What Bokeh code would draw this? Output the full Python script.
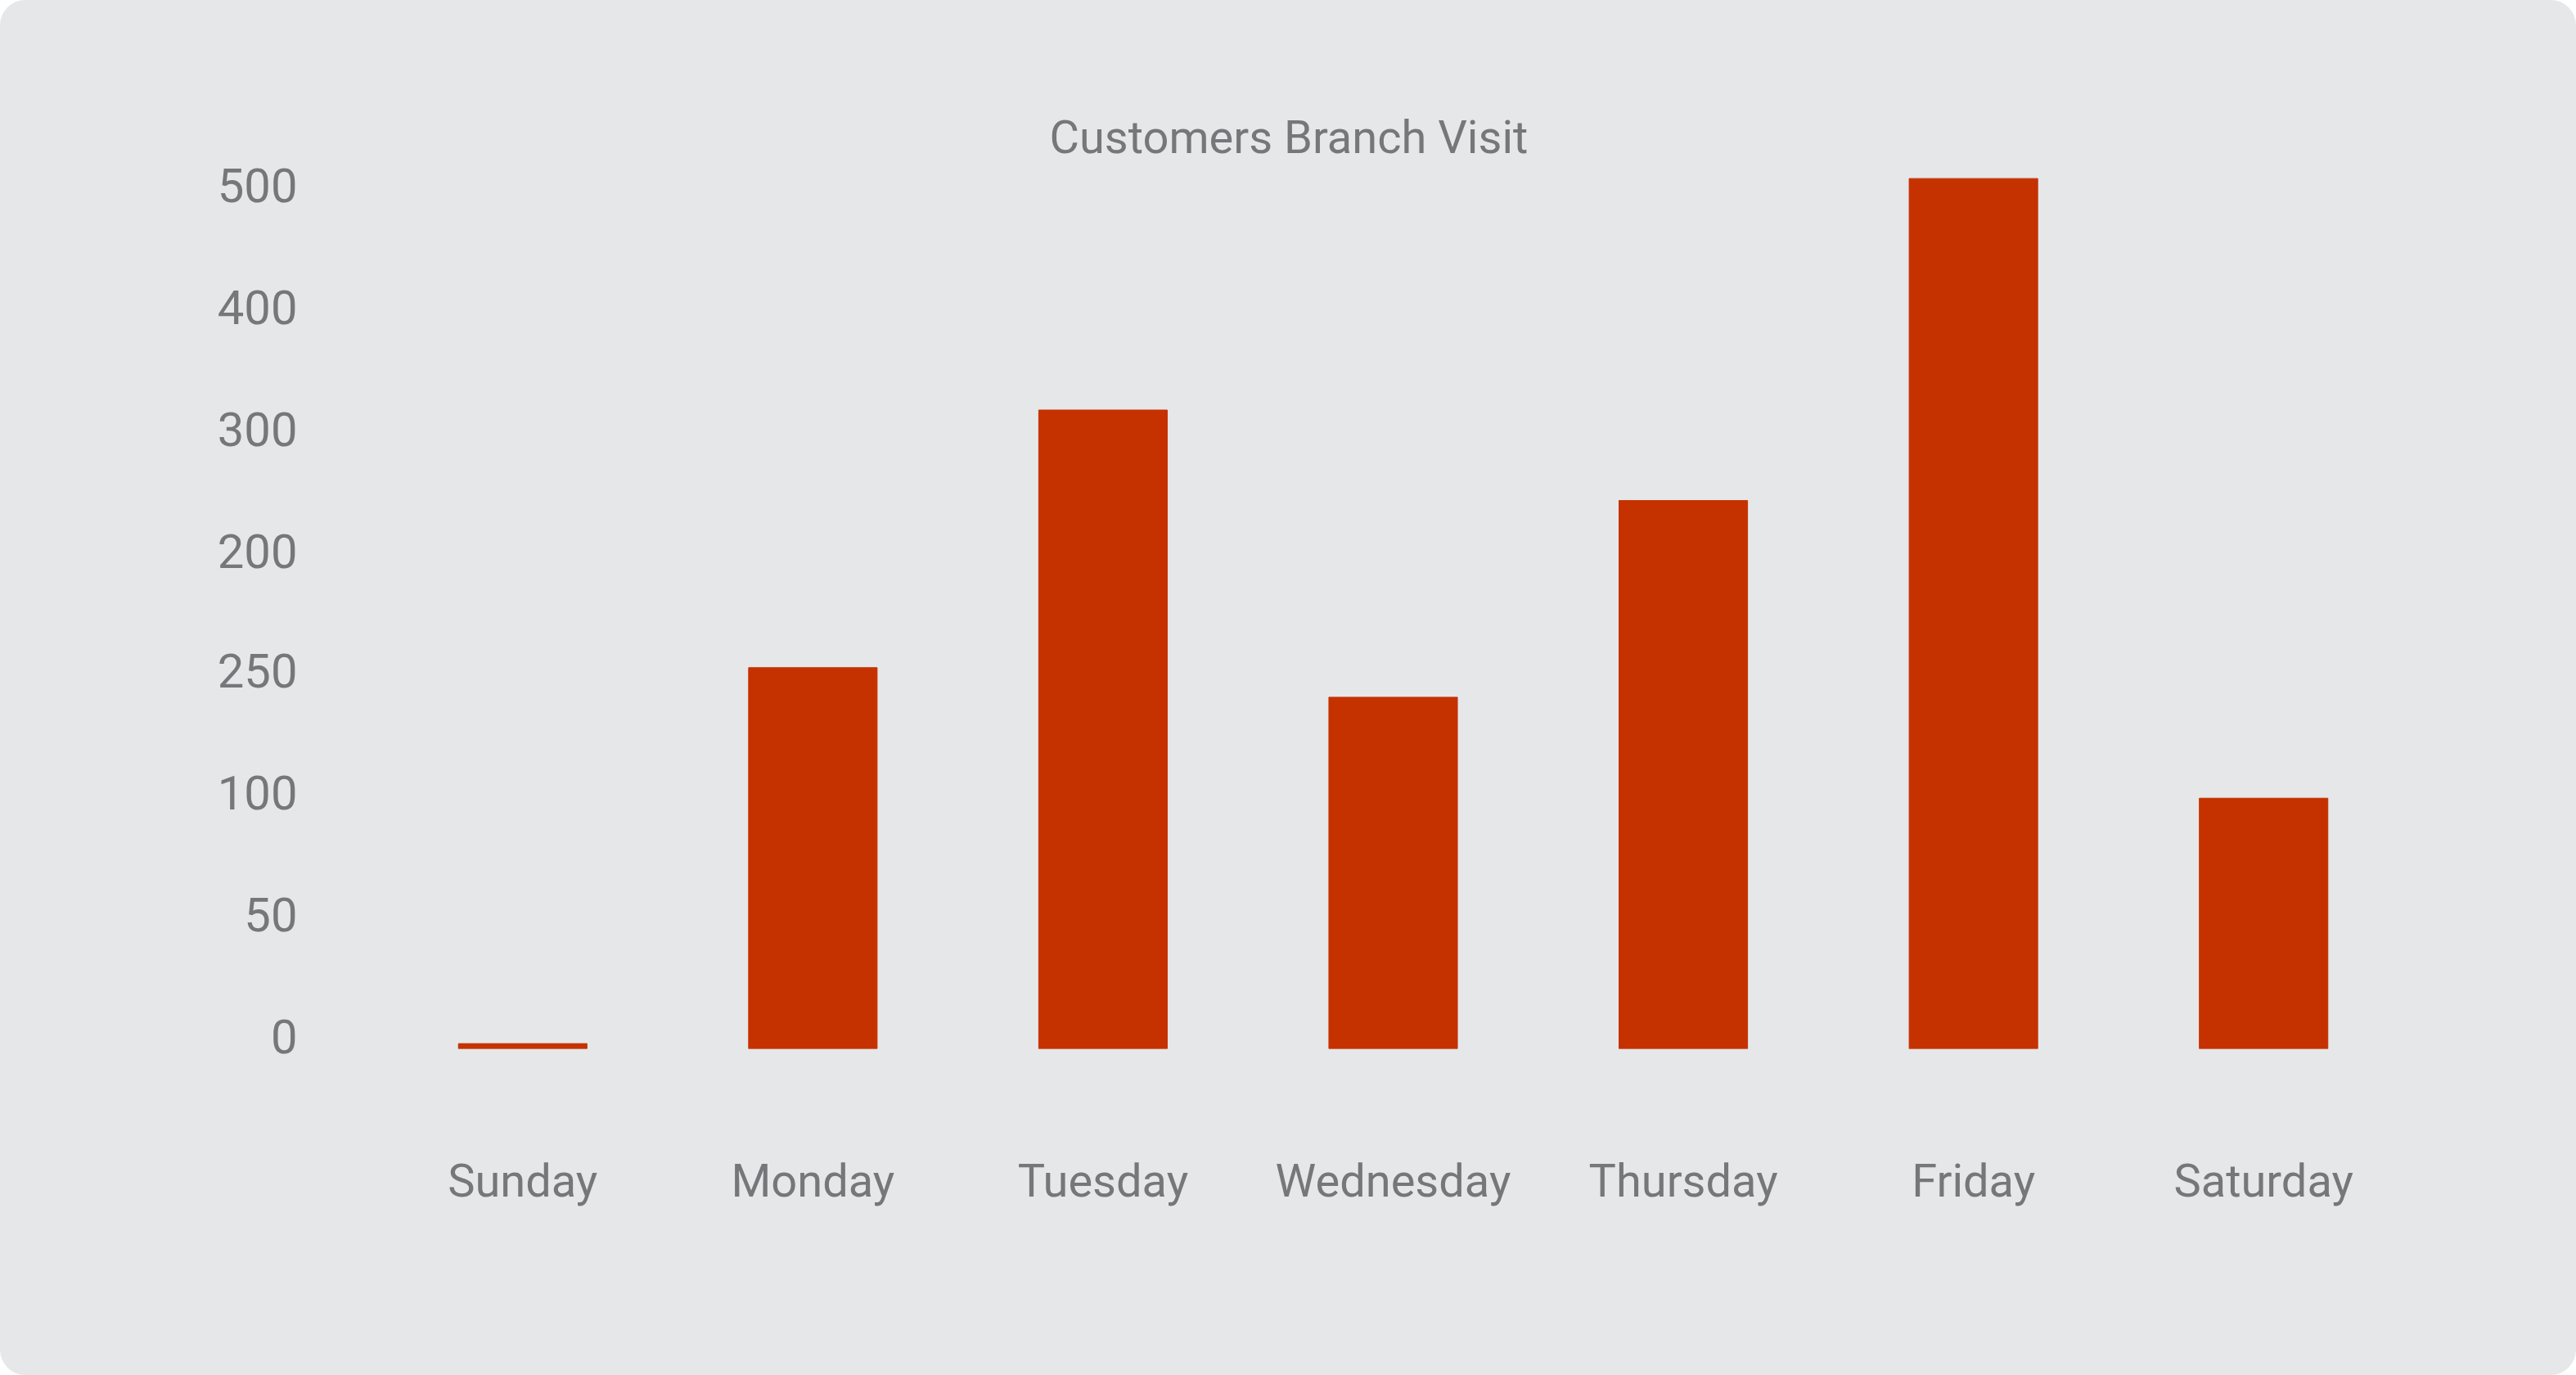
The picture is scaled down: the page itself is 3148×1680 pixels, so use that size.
from bokeh.plotting import figure
from bokeh.models import ColumnDataSource, Range1d, FixedTicker
from bokeh.embed import file_html
from bokeh.resources import INLINE

days = ["Sunday", "Monday", "Tuesday", "Wednesday", "Thursday", "Friday", "Saturday"]
visits = [3, 219, 367, 202, 315, 500, 144]
y_tick_values = [7, 77, 147, 217, 286, 356, 426, 496]
y_tick_labels = ["0", "50", "100", "250", "200", "300", "400", "500"]

BG = "#e6e7e9"
TXT = "#76777b"
BAR = "#c53200"
FONT = "Roboto"

src = ColumnDataSource(dict(day=days, visits=visits))

p = figure(x_range=days, y_range=Range1d(0, 505), width=3148, height=1680,
           output_backend="svg", toolbar_location=None, tools="",
           min_border_left=461, min_border_right=205, min_border_top=207, min_border_bottom=399)
p.styles = {"border-radius": "31px", "overflow": "hidden", "background-color": BG}
p.background_fill_color = None
p.border_fill_color = None
p.outline_line_color = None

p.vbar(x="day", top="visits", width=0.443, source=src, color=BAR)

p.title.text = "Customers Branch Visit"
p.title.text_font = FONT
p.title.text_font_size = "56px"
p.title.text_font_style = "normal"
p.title.text_color = TXT
p.title.align = "left"
p.title.offset = 821
p.title.standoff = 14

p.grid.visible = False
for ax in (p.xaxis[0], p.yaxis[0]):
    ax.axis_line_color = None
    ax.major_tick_line_color = None
    ax.minor_tick_line_color = None
    ax.major_label_text_font = FONT
    ax.major_label_text_color = TXT

p.xaxis.major_label_text_font_size = "56px"
p.xaxis.major_label_standoff = 122

p.yaxis.ticker = FixedTicker(ticks=y_tick_values)
p.yaxis.major_label_overrides = {v: l for v, l in zip(y_tick_values, y_tick_labels)}
p.yaxis.major_label_text_font_size = "58px"
p.yaxis.major_label_standoff = 92

open("out.html", "w").write(file_html(p, INLINE))
